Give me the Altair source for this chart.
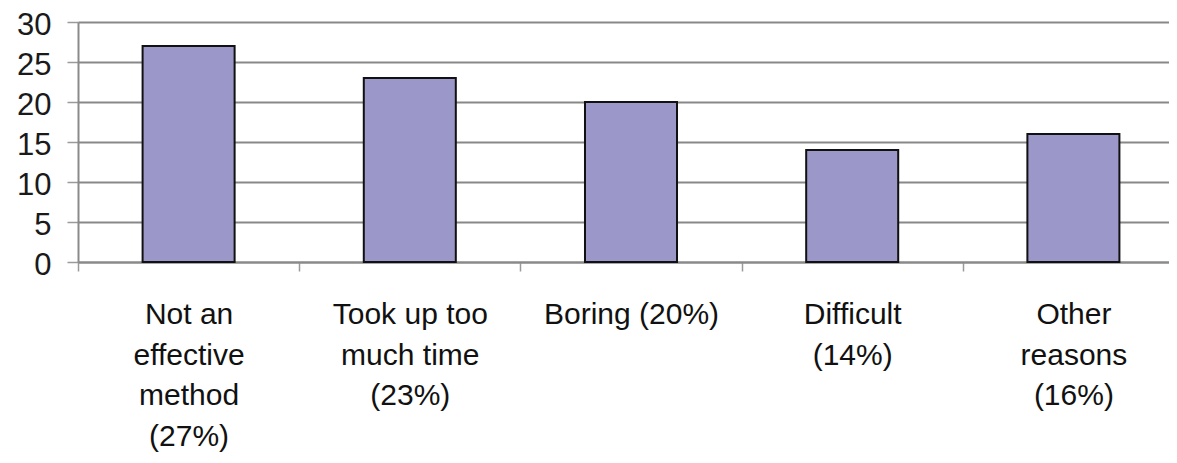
import altair as alt
import pandas as pd

categories = [
    "Not an|effective|method|(27%)",
    "Took up too|much time|(23%)",
    "Boring (20%)",
    "Difficult|(14%)",
    "Other|reasons|(16%)",
]
values = [27, 23, 20, 14, 16]

df = pd.DataFrame({"category": categories, "value": values})

FONT = "Liberation Sans"

chart = (
    alt.Chart(df)
    .mark_bar(
        width=alt.RelativeBandSize(0.416),
        fill="#9B97C9",
        stroke="#111111",
        strokeWidth=2,
    )
    .encode(
        x=alt.X(
            "category:N",
            sort=None,
            title=None,
            scale=alt.Scale(range=[0, 1106], paddingInner=0, paddingOuter=0),
            axis=alt.Axis(
                labelExpr="split(datum.label, '|')",
                labelAngle=0,
                labelFont=FONT,
                labelFontSize=30,
                labelColor="#111111",
                labelLineHeight=40.5,
                labelPadding=28.5,
                labelBaseline="top",
                tickBand="extent",
                tickSize=9,
                tickColor="#9a9a9a",
                tickWidth=1.5,
                domainColor="#8a8a8a",
                domainWidth=2,
                grid=False,
                labelLimit=400,
            ),
        ),
        y=alt.Y(
            "value:Q",
            title=None,
            scale=alt.Scale(domain=[0, 30], nice=False),
            axis=alt.Axis(
                values=[0, 5, 10, 15, 20, 25, 30],
                labelFont=FONT,
                labelFontSize=31,
                labelColor="#1a1a1a",
                labelPadding=16,
                labelOffset=3,
                tickSize=11,
                tickColor="#9a9a9a",
                tickWidth=1.5,
                domainColor="#8a8a8a",
                domainWidth=2,
                grid=True,
                gridColor="#888888",
                gridWidth=1.8,
            ),
        ),
    )
    .properties(
        width=1091,
        height=240,
        autosize=alt.AutoSizeParams(type="none"),
        padding={"left": 70, "top": 14, "right": 0, "bottom": 190},
    )
    .configure_view(fill="#C0C0C0", stroke=None)
    .configure(background="white")
)

chart.save("out.html", embed_options={"renderer": "svg", "actions": False})
